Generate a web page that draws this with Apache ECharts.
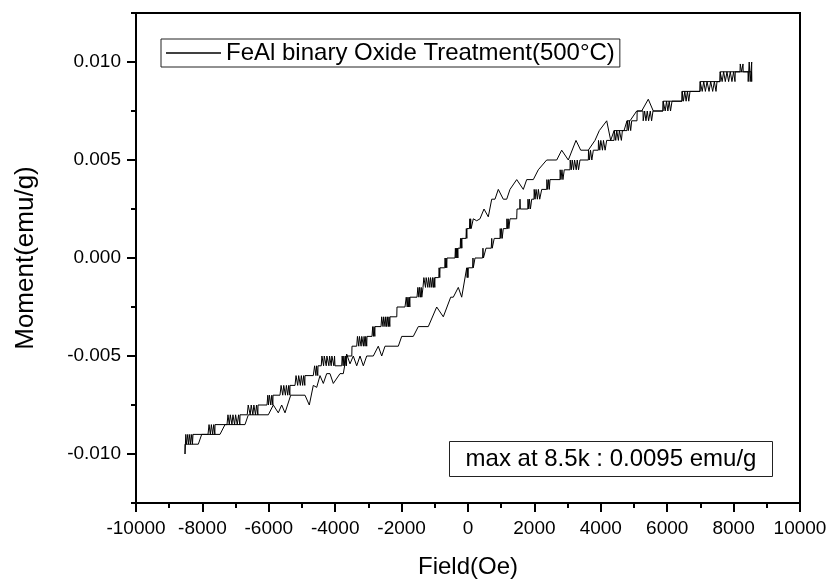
<!DOCTYPE html>
<html>
<head>
<meta charset="utf-8">
<script src="https://cdn.jsdelivr.net/npm/echarts@6/dist/echarts.min.js"></script>
<style>
html,body{margin:0;padding:0;background:#fff;}
#chart{width:829px;height:580px;}
</style>
</head>
<body>
<div id="chart"></div>
<script>
// ---- data (field in Oe, moment in emu/g) ----
const seriesName = 'FeAl binary Oxide Treatment(500\u00B0C)';
const annotationText = 'max at 8.5k : 0.0095 emu/g';
const xAxisName = 'Field(Oe)';
const yAxisName = 'Moment(emu/g)';
const xTicks = [-10000,-8000,-6000,-4000,-2000,0,2000,4000,6000,8000,10000];
const yTicks = [-0.010,-0.005,0.000,0.005,0.010];
const yMinorTicks = [-0.0125,-0.0075,-0.0025,0.0025,0.0075,0.0125];

// lower branch: field increasing from -8.5 kOe to +8.5 kOe
const ascendingBranch = [
[-8524,-0.0100],[-8524,-0.0095],[-8123,-0.0095],[-8021,-0.0090],[-7470,-0.0090],[-7319,-0.0085],
[-6717,-0.0085],[-6617,-0.0080],[-6015,-0.0080],[-5864,-0.0075],[-5714,-0.0079],[-5612,-0.0075],
[-5512,-0.0079],[-5340,-0.0070],[-4910,-0.0070],[-4780,-0.0075],[-4660,-0.0065],[-4557,-0.0066],
[-4458,-0.0060],[-4358,-0.0064],[-4256,-0.0059],[-4157,-0.0059],[-4057,-0.0064],[-3855,-0.0059],
[-3756,-0.0059],[-3654,-0.0049],[-3554,-0.0054],[-3455,-0.0050],[-3352,-0.0055],[-3253,-0.0050],
[-3153,-0.0055],[-3051,-0.0050],[-2852,-0.0050],[-2702,-0.0045],[-2599,-0.0050],[-2500,-0.0045],
[-2099,-0.0045],[-1997,-0.0040],[-1648,-0.0040],[-1497,-0.0035],[-1196,-0.0035],[-943,-0.0025],
[-744,-0.0030],[-521,-0.0020],[-443,-0.0020],[-292,-0.0015],[-190,-0.0020],[-39,-0.0005],
[-25,-0.0010],[-15,-0.0005],[0,-0.0010],[10,-0.0005],
[140,-0.0005],[150,0.0],[160,-0.0005],[211,0.0],
[440,0.0],[450,0.0005],[465,0.0],[512,0.0],[542,0.0005],
[700,0.0005],[715,0.0010],[730,0.0005],[760,0.0005],[790,0.0010],
[964,0.0010],[970,0.0015],[990,0.0010],[1010,0.0015],[1030,0.0010],[1063,0.0015],
[1166,0.0015],[1172,0.0020],[1190,0.0015],[1210,0.0020],[1230,0.0015],[1265,0.0020],
[1467,0.0020],[1476,0.0025],[1560,0.0025],[1566,0.0030],[1575,0.0025],
[1800,0.0025],[1806,0.0030],[1830,0.0025],[1850,0.0030],[1880,0.0025],[1919,0.0030],
[1988,0.0030],[1994,0.0035],[2020,0.0030],[2050,0.0035],[2090,0.0030],[2120,0.0035],[2160,0.0030],[2220,0.0035],
[2370,0.0035],[2376,0.0040],[2400,0.0035],[2430,0.0040],[2450,0.0035],[2470,0.0040],
[2771,0.0040],[2776,0.0045],[2800,0.0040],[2830,0.0045],[2860,0.0040],[2900,0.0045],
[3072,0.0045],[3078,0.0050],[3110,0.0045],[3140,0.0050],[3180,0.0045],[3210,0.0050],[3260,0.0045],[3290,0.0050],[3330,0.0045],[3373,0.0050],
[3625,0.0050],[3630,0.0055],[3660,0.0050],[3690,0.0055],[3730,0.0050],[3775,0.0055],
[3925,0.0055],[3930,0.0060],[3970,0.0055],[4000,0.0060],[4050,0.0055],[4080,0.0060],[4130,0.0055],[4177,0.0060],
[4400,0.0060],[4405,0.0065],[4450,0.0060],[4480,0.0065],[4530,0.0060],[4560,0.0065],[4620,0.0060],[4650,0.0065],
[4789,0.0065],[4795,0.0070],[4830,0.0065],[4860,0.0070],[4900,0.0065],[4930,0.0070],[5090,0.0070],[5095,0.0075],
[5271,0.0075],[5277,0.0070],[5320,0.0075],[5360,0.0070],[5400,0.0075],[5440,0.0070],[5490,0.0075],[5530,0.0070],[5572,0.0075],
[5873,0.0075],[5878,0.0080],[5934,0.0080],[5940,0.0075],[5980,0.0080],[6020,0.0075],[6060,0.0080],[6100,0.0075],[6145,0.0080],
[6446,0.0080],[6451,0.0085],[6490,0.0080],[6530,0.0085],[6570,0.0080],[6610,0.0085],[6650,0.0080],[6687,0.0085],
[6988,0.0085],[6993,0.0090],[7048,0.0090],[7055,0.0085],[7100,0.0090],[7150,0.0085],[7200,0.0090],[7260,0.0085],
[7310,0.0090],[7370,0.0085],[7420,0.0090],[7470,0.0085],[7500,0.0090],
[7590,0.0090],[7595,0.0095],[7650,0.0095],[7655,0.0090],[7700,0.0095],[7750,0.0090],[7800,0.0095],[7850,0.0090],
[7900,0.0095],[7950,0.0090],[8000,0.0095],[8042,0.0090],[8050,0.0095],
[8193,0.0095],[8200,0.0099],[8240,0.0095],[8283,0.0099],[8290,0.0095],
[8434,0.0095],[8440,0.0090],[8470,0.0100],[8500,0.0090],[8545,0.0100]
];

// upper branch: field decreasing from +8.5 kOe to -8.5 kOe
const descendingBranch = [
[8545,0.0100],[8545,0.0090],[8540,0.0095],[7600,0.0095],[7590,0.0090],[6995,0.0090],[6988,0.0085],
[6450,0.0085],[6446,0.0080],[5880,0.0080],[5873,0.0075],
[5581,0.0075],[5430,0.0081],[5232,0.0075],[5081,0.0075],[4880,0.0070],[4789,0.0070],[4700,0.0065],
[4400,0.0065],[4298,0.0060],[4178,0.0070],[3955,0.0065],[3825,0.0060],[3623,0.0055],[3395,0.0055],
[3253,0.0060],[3021,0.0050],[2822,0.0055],[2672,0.0050],[2370,0.0050],[2117,0.0045],[1967,0.0040],
[1768,0.0040],[1666,0.0035],[1467,0.0040],[1265,0.0035],[1166,0.0030],[1063,0.0030],[913,0.0035],
[813,0.0030],[714,0.0030],[611,0.0021],[482,0.0025],[361,0.0020],[262,0.0019],[160,0.0020],
[100,0.0020],[95,0.0015],[80,0.0020],[70,0.0015],[55,0.0020],[45,0.0015],
[-30,0.0015],[-35,0.0010],[-50,0.0015],[-60,0.0010],
[-181,0.0010],[-185,0.0005],[-200,0.0010],[-210,0.0005],[-225,0.0010],[-235,0.0005],
[-301,0.0005],[-305,0.0],[-320,0.0005],[-335,0.0],[-350,0.0005],[-365,0.0],[-380,0.0005],[-392,0.0],
[-633,0.0],[-640,-0.0005],[-660,0.0],[-675,-0.0005],[-690,0.0],[-700,-0.0005],
[-843,-0.0005],[-850,-0.0010],[-870,-0.0005],[-880,-0.0010],
[-994,-0.0010],[-1000,-0.0015],[-1020,-0.0010],[-1040,-0.0015],[-1070,-0.0010],[-1090,-0.0015],[-1130,-0.0010],
[-1150,-0.0015],[-1190,-0.0010],[-1210,-0.0015],[-1260,-0.0010],[-1280,-0.0015],[-1330,-0.0010],[-1355,-0.0015],
[-1386,-0.0015],[-1392,-0.0020],[-1410,-0.0015],[-1430,-0.0020],[-1460,-0.0015],[-1480,-0.0020],[-1510,-0.0015],[-1536,-0.0020],
[-1747,-0.0020],[-1752,-0.0025],[-1770,-0.0020],[-1790,-0.0025],[-1810,-0.0020],[-1830,-0.0025],[-1860,-0.0020],[-1898,-0.0025],
[-2139,-0.0025],[-2145,-0.0030],
[-2349,-0.0030],[-2355,-0.0035],[-2380,-0.0030],[-2400,-0.0035],[-2430,-0.0030],[-2450,-0.0035],[-2480,-0.0030],
[-2500,-0.0035],[-2540,-0.0030],[-2560,-0.0035],[-2600,-0.0030],[-2620,-0.0035],
[-2801,-0.0035],[-2806,-0.0040],[-2830,-0.0035],[-2850,-0.0040],[-2870,-0.0035],[-2892,-0.0040],
[-3042,-0.0040],[-3051,-0.0045],[-3080,-0.0040],[-3100,-0.0045],[-3130,-0.0040],[-3150,-0.0045],[-3200,-0.0040],
[-3220,-0.0045],[-3270,-0.0040],[-3290,-0.0045],[-3330,-0.0040],[-3352,-0.0045],
[-3494,-0.0045],[-3500,-0.0050],
[-3654,-0.0050],[-3660,-0.0055],[-3690,-0.0050],[-3710,-0.0055],[-3740,-0.0050],[-3760,-0.0055],[-3790,-0.0050],[-3804,-0.0055],
[-4006,-0.0055],[-4020,-0.0050],[-4040,-0.0055],[-4100,-0.0050],[-4120,-0.0055],[-4170,-0.0050],[-4190,-0.0055],
[-4250,-0.0050],[-4270,-0.0055],[-4330,-0.0050],[-4350,-0.0055],[-4400,-0.0050],[-4420,-0.0055],
[-4518,-0.0055],[-4525,-0.0060],[-4560,-0.0055],[-4580,-0.0060],[-4620,-0.0055],[-4660,-0.0060],
[-4910,-0.0060],[-4915,-0.0065],[-4950,-0.0060],[-4980,-0.0065],[-5020,-0.0060],[-5050,-0.0065],[-5100,-0.0060],
[-5130,-0.0065],[-5180,-0.0060],[-5210,-0.0065],
[-5361,-0.0065],[-5366,-0.0070],[-5400,-0.0065],[-5430,-0.0070],[-5470,-0.0065],[-5500,-0.0070],[-5550,-0.0065],
[-5580,-0.0070],[-5630,-0.0065],[-5663,-0.0070],
[-5873,-0.0070],[-5878,-0.0075],[-5910,-0.0070],[-5940,-0.0075],[-5980,-0.0070],[-6010,-0.0075],[-6030,-0.0070],[-6054,-0.0075],
[-6325,-0.0075],[-6330,-0.0080],[-6370,-0.0075],[-6400,-0.0080],[-6450,-0.0075],[-6480,-0.0080],[-6530,-0.0075],
[-6560,-0.0080],[-6620,-0.0075],[-6650,-0.0080],
[-6867,-0.0080],[-6872,-0.0085],[-6910,-0.0080],[-6950,-0.0085],[-7000,-0.0080],[-7030,-0.0085],[-7080,-0.0080],
[-7110,-0.0085],[-7160,-0.0080],[-7190,-0.0085],[-7230,-0.0080],[-7259,-0.0085],
[-7620,-0.0085],[-7625,-0.0090],[-7660,-0.0085],[-7690,-0.0090],[-7730,-0.0085],[-7760,-0.0090],[-7800,-0.0085],[-7831,-0.0090],
[-8283,-0.0090],[-8300,-0.0095],[-8320,-0.0090],[-8360,-0.0095],[-8380,-0.0090],[-8420,-0.0095],[-8440,-0.0090],
[-8480,-0.0095],[-8500,-0.0090],[-8524,-0.0090],[-8524,-0.0100]
];

const FONT = 'Arial, "Liberation Sans", Helvetica, sans-serif';
const chart = echarts.init(document.getElementById('chart'), null, {renderer: 'canvas'});

const gridLeft = 136, gridTop = 13, gridW = 664, gridH = 490;

chart.setOption({
  animation: false,
  backgroundColor: '#fff',
  textStyle: {fontFamily: FONT, color: '#000'},
  grid: {left: gridLeft, top: gridTop, width: gridW, height: gridH, show: true,
         borderColor: '#000', borderWidth: 2, backgroundColor: 'transparent',
         containLabel: false, outerBoundsMode: 'none'},
  legend: {
    left: 161, top: 39, orient: 'horizontal',
    padding: [2, 5, 2, 5],
    borderColor: '#222', borderWidth: 1, borderRadius: 0,
    itemWidth: 55, itemHeight: 1.4,
    icon: 'rect',
    itemStyle: {color: '#000', borderWidth: 0},
    textStyle: {fontFamily: FONT, fontSize: 24, color: '#000'},
    data: [{name: seriesName, icon: 'rect'}]
  },
  xAxis: [{
    type: 'value', min: xTicks[0], max: xTicks[xTicks.length-1], interval: 2000,
    name: xAxisName, nameLocation: 'middle', nameGap: 52,
    nameTextStyle: {fontFamily: FONT, fontSize: 24, color: '#000'},
    axisLine: {show: true, onZero: false, lineStyle: {color: '#000', width: 2}},
    axisTick: {show: true, inside: false, length: 9, lineStyle: {color: '#000', width: 2}},
    minorTick: {show: true, splitNumber: 2, length: 5, lineStyle: {color: '#000', width: 2}},
    axisLabel: {fontFamily: FONT, fontSize: 19, color: '#000', margin: 16,
      formatter: function (v) { return String(v); }},
    splitLine: {show: false}
  }],
  yAxis: [{
    type: 'value', min: -0.0125, max: 0.0125,
    name: yAxisName, nameLocation: 'middle', nameGap: 97, nameRotate: 90,
    nameTextStyle: {fontFamily: FONT, fontSize: 26, color: '#000'},
    axisLine: {show: true, onZero: false, lineStyle: {color: '#000', width: 2}},
    axisTick: {show: true, inside: false, length: 9, customValues: yTicks, lineStyle: {color: '#000', width: 2}},
    axisLabel: {fontFamily: FONT, fontSize: 19, color: '#000', margin: 15, customValues: yTicks,
      formatter: function (v) { return (Math.abs(v) < 1e-12 ? 0 : v).toFixed(3); }},
    splitLine: {show: false}
  }, {
    type: 'value', min: -0.0125, max: 0.0125, position: 'left',
    axisLine: {show: false, onZero: false},
    axisTick: {show: true, inside: false, length: 5, customValues: yMinorTicks, lineStyle: {color: '#000', width: 2}},
    axisLabel: {show: false},
    splitLine: {show: false}
  }],
  graphic: [{
    type: 'group', left: 449, top: 441,
    children: [
      {type: 'rect', shape: {x: 0, y: 0, width: 323, height: 35},
       style: {fill: '#fff', stroke: '#222', lineWidth: 1}},
      {type: 'text', x: 161.5, y: 18,
       style: {text: annotationText, font: '24px ' + FONT, fill: '#000',
               textAlign: 'center', textVerticalAlign: 'middle'}}
    ]
  }],
  series: [{
    name: seriesName, type: 'line',
    xAxisIndex: 0, yAxisIndex: 0,
    data: ascendingBranch.concat(descendingBranch),
    showSymbol: false, symbol: 'none',
    lineStyle: {color: '#000', width: 1},
    itemStyle: {color: '#000'},
    clip: true
  }]
});
</script>
</body>
</html>
